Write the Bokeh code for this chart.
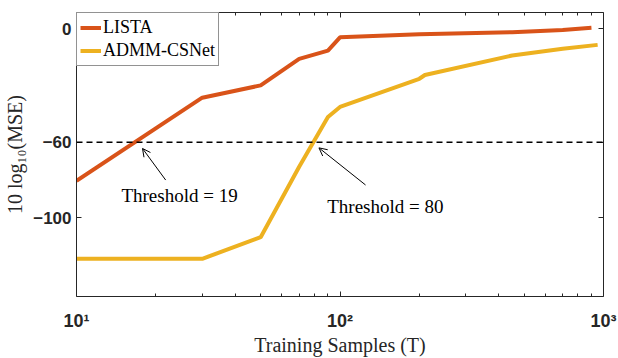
from bokeh.plotting import figure
from bokeh.models import (Range1d, FixedTicker, LogAxis, LinearAxis, Legend, LegendItem,
                          Span, Arrow, OpenHead, Label)
from bokeh.embed import file_html
from bokeh.resources import INLINE

# ---- data ----
lista_T = [10, 30, 50, 70, 90, 100, 200, 450, 700, 900]
lista_mse = [-80.4, -36.5, -30.0, -16.0, -11.6, -4.6, -3.0, -1.9, -0.7, 0.4]
admm_T = [10, 30, 50, 70, 90, 100, 200, 210, 450, 700, 950]
admm_mse = [-121.6, -121.6, -110.2, -73.0, -46.7, -41.4, -26.5, -24.5, -14.2, -10.7, -8.6]
series_names = ["LISTA", "ADMM-CSNet"]
threshold_db = -60
threshold_labels = ["Threshold = 19", "Threshold = 80"]
arrow_tip_x = [17.8, 83.2]
arrow_tip_y = [-63.3, -63.0]
arrow_tail_x = [21.8, 125.0]
arrow_tail_y = [-80.0, -82.6]
label_x = [24.6, 148.6]
label_y = [-88.0, -94.0]
x_major = [10, 100, 1000]
x_minor = [20, 30, 40, 50, 60, 70, 80, 90, 200, 300, 400, 500, 600, 700, 800, 900]
x_tick_labels = {10: "10\u00b9", 100: "10\u00b2", 1000: "10\u00b3"}
y_ticks = [-100, -60, 0]

AX = "#262626"
SERIF = "Liberation Serif"
SANS = "Liberation Sans"

p = figure(width=618, height=358, x_axis_type="log", output_backend="svg",
           toolbar_location=None, x_range=Range1d(10, 1000), y_range=Range1d(-141.5, 8.5),
           min_border_left=76, min_border_right=15, min_border_top=12, min_border_bottom=61)
p.xgrid.visible = False
p.ygrid.visible = False
p.outline_line_color = None
p.background_fill_color = "white"
p.border_fill_color = "white"

l1 = p.line(lista_T, lista_mse, line_color="#D95319", line_width=4)
l2 = p.line(admm_T, admm_mse, line_color="#EDB120", line_width=4)

p.add_layout(Span(location=threshold_db, dimension="width", line_color="black",
                  line_dash="6 4", line_width=1.5))

for i in range(2):
    p.add_layout(Arrow(end=OpenHead(size=8, line_width=1, line_color="black"),
                       x_start=arrow_tail_x[i], y_start=arrow_tail_y[i],
                       x_end=arrow_tip_x[i], y_end=arrow_tip_y[i],
                       line_width=1, line_color="black"))
    p.add_layout(Label(x=label_x[i], y=label_y[i], text=threshold_labels[i],
                       text_align="center", text_baseline="alphabetic",
                       text_font=SERIF, text_font_size="19px", text_color="black"))

def style_x(ax):
    ax.ticker = FixedTicker(ticks=x_major, minor_ticks=x_minor)
    ax.axis_line_color = AX
    ax.major_tick_line_color = AX
    ax.minor_tick_line_color = AX
    ax.major_tick_in = 5
    ax.major_tick_out = 0
    ax.minor_tick_in = 3
    ax.minor_tick_out = 0

def style_y(ax):
    ax.ticker = FixedTicker(ticks=y_ticks, minor_ticks=[])
    ax.axis_line_color = AX
    ax.major_tick_line_color = AX
    ax.major_tick_in = 5
    ax.major_tick_out = 0
    ax.minor_tick_line_color = None

xa = p.xaxis[0]
style_x(xa)
xa.major_label_overrides = x_tick_labels
xa.major_label_text_font = SANS
xa.major_label_text_font_style = "bold"
xa.major_label_text_font_size = "18px"
xa.major_label_text_color = AX
xa.major_label_standoff = 14
xa.axis_label = "Training Samples (T)"
xa.axis_label_text_font = SERIF
xa.axis_label_text_font_style = "normal"
xa.axis_label_text_font_size = "20px"
xa.axis_label_text_color = AX
xa.axis_label_standoff = 0

ya = p.yaxis[0]
style_y(ya)
ya.major_label_text_font = SANS
ya.major_label_text_font_style = "bold"
ya.major_label_text_font_size = "17px"
ya.major_label_text_color = AX
ya.major_label_standoff = 5
ya.axis_label = "10 log\u2081\u2080(MSE)"
ya.axis_label_text_font = SERIF
ya.axis_label_text_font_style = "normal"
ya.axis_label_text_font_size = "20px"
ya.axis_label_text_color = AX
ya.axis_label_standoff = 4

top = LogAxis()
style_x(top)
top.major_label_text_font_size = "1px"
top.major_label_text_alpha = 0
top.major_label_standoff = 0
p.add_layout(top, "above")

right = LinearAxis()
style_y(right)
right.major_label_text_font_size = "1px"
right.major_label_text_alpha = 0
right.major_label_standoff = 0
p.add_layout(right, "right")

legend = Legend(items=[LegendItem(label=series_names[0], renderers=[l1]),
                       LegendItem(label=series_names[1], renderers=[l2])],
                location="top_left", margin=0, padding=3, spacing=0,
                glyph_width=21, glyph_height=23, label_height=23, label_standoff=2,
                label_text_font=SERIF, label_text_font_size="18px", label_text_color="black",
                border_line_color=AX, border_line_width=1, background_fill_color="white",
                background_fill_alpha=1)
p.add_layout(legend)

open("out.html", "w").write(file_html(p, INLINE))
